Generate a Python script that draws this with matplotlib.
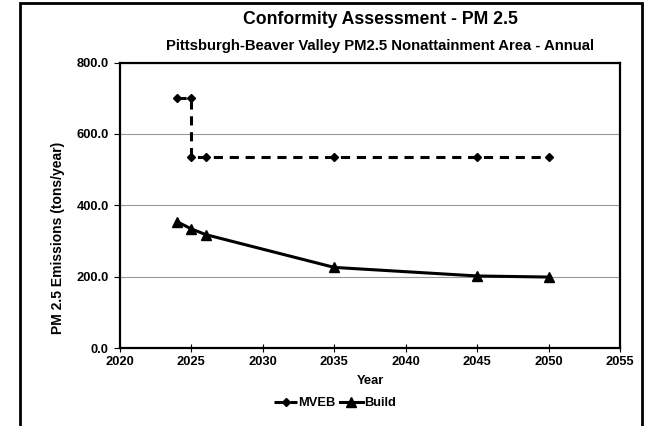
import matplotlib.pyplot as plt
from matplotlib.patches import Rectangle

plt.rcParams['font.family'] = ['Liberation Sans', 'DejaVu Sans']
plt.rcParams['font.weight'] = 'bold'

# MVEB steps down in 2025, so 2025 appears twice
mveb_years = [2024, 2025, 2025, 2026, 2035, 2045, 2050]
mveb_values = [702.0, 702.0, 536.0, 536.0, 536.0, 536.0, 536.0]

build_years = [2024, 2025, 2026, 2035, 2045, 2050]
build_values = [354.0, 334.0, 318.0, 226.0, 202.0, 199.0]

x_ticks = [2020, 2025, 2030, 2035, 2040, 2045, 2050, 2055]
y_ticks = [0, 200, 400, 600, 800]

fig = plt.figure(figsize=(6.48, 4.26), dpi=100)
ax = fig.add_axes([0.185, 0.183, 0.772, 0.670])

# outer chart-area border
fig.patches.append(Rectangle((20 / 648, -0.05), 622 / 648, 1.05 - 3 / 426,
                             transform=fig.transFigure, fill=False,
                             edgecolor='black', linewidth=2.0))

ax.plot(mveb_years, mveb_values, color='black', linestyle=(0, (3, 2.2)),
        linewidth=2.2, marker='D', markersize=4.5, label='MVEB')
ax.plot(build_years, build_values, color='black', linestyle='-',
        linewidth=2.2, marker='^', markersize=6.5, label='Build')

ax.set_xlim(2020, 2055)
ax.set_ylim(0, 800)
ax.set_xticks(x_ticks)
ax.set_yticks(y_ticks)
ax.set_yticklabels(['%.1f' % v for v in y_ticks])
ax.grid(axis='y', color='#999999', linewidth=0.8)
ax.set_axisbelow(True)
for s in ax.spines.values():
    s.set_linewidth(1.6)
ax.tick_params(axis='x', direction='inout', length=6, labelsize=9.3, pad=3)
ax.tick_params(axis='y', direction='out', length=4, labelsize=9.3, pad=4)

ax.set_xlabel('Year', fontsize=9.3, fontweight='bold', labelpad=5)
ax.set_ylabel('PM 2.5 Emissions (tons/year)', fontsize=10, fontweight='bold')
ax.yaxis.set_label_coords(-0.11, 0.386)

fig.text(0.587, 0.955, 'Conformity Assessment - PM 2.5', ha='center', va='center',
         fontsize=12.7, fontweight='bold')
fig.text(0.587, 0.893, 'Pittsburgh-Beaver Valley PM2.5 Nonattainment Area - Annual',
         ha='center', va='center', fontsize=10.7, fontweight='bold')

ax.legend(loc='center', bbox_to_anchor=(0.43, -0.193), ncol=2, frameon=False,
          fontsize=9.3, handlelength=1.8, handletextpad=0.1, columnspacing=0.3,
          borderpad=0)

fig.savefig('out.png', dpi=100)
